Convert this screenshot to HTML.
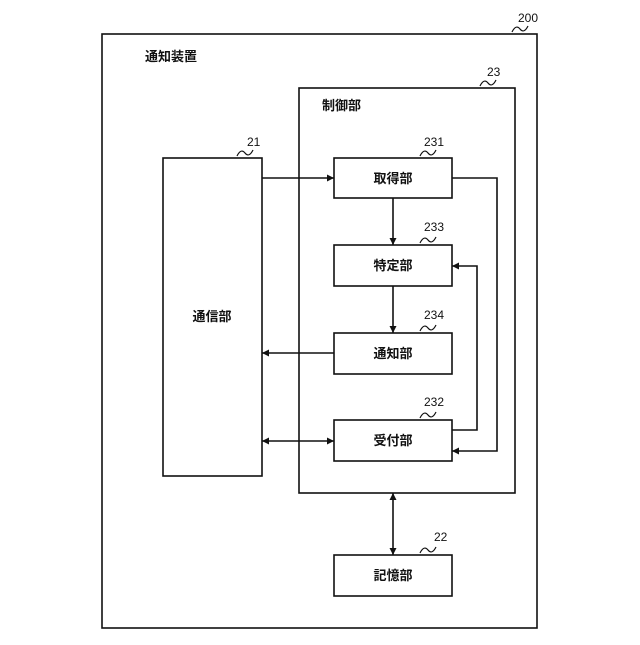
<!DOCTYPE html>
<html><head><meta charset="utf-8"><style>
body{margin:0;background:#fff}
text{font-family:"Liberation Sans","Noto Sans CJK JP",sans-serif;fill:#111}
</style></head><body>
<svg width="640" height="640" viewBox="0 0 640 640" xmlns="http://www.w3.org/2000/svg">
<defs><marker id="a" viewBox="0 0 10 10" refX="10" refY="5" markerWidth="9" markerHeight="7" orient="auto-start-reverse" markerUnits="userSpaceOnUse"><path d="M0,0 L10,5 L0,10 z" fill="#111"/></marker></defs>
<g fill="none" stroke="#111" stroke-width="1.6">
<rect x="102" y="34" width="435" height="594"/>
<rect x="299" y="88" width="216" height="405"/>
<rect x="163" y="158" width="99" height="318"/>
<rect x="334" y="158" width="118" height="40"/>
<rect x="334" y="245" width="118" height="41"/>
<rect x="334" y="333" width="118" height="41"/>
<rect x="334" y="420" width="118" height="41"/>
<rect x="334" y="555" width="118" height="41"/>
<line x1="262" y1="178" x2="334" y2="178" marker-end="url(#a)"/>
<line x1="393" y1="198" x2="393" y2="245" marker-end="url(#a)"/>
<line x1="393" y1="286" x2="393" y2="333" marker-end="url(#a)"/>
<line x1="334" y1="353" x2="262" y2="353" marker-end="url(#a)"/>
<line x1="262" y1="441" x2="334" y2="441" marker-start="url(#a)" marker-end="url(#a)"/>
<polyline points="452,178 497,178 497,451 452,451" marker-end="url(#a)"/>
<polyline points="452,430 477,430 477,266 452,266" marker-end="url(#a)"/>
<line x1="393" y1="493" x2="393" y2="555" marker-start="url(#a)" marker-end="url(#a)"/>
<path d="M512,32 q4,-8 8,-3 q4,5 8,-3" stroke-width="1.2"/>
<path d="M480,86 q4,-8 8,-3 q4,5 8,-3" stroke-width="1.2"/>
<path d="M237,156 q4,-8 8,-3 q4,5 8,-3" stroke-width="1.2"/>
<path d="M420,156 q4,-8 8,-3 q4,5 8,-3" stroke-width="1.2"/>
<path d="M420,243 q4,-8 8,-3 q4,5 8,-3" stroke-width="1.2"/>
<path d="M420,331 q4,-8 8,-3 q4,5 8,-3" stroke-width="1.2"/>
<path d="M420,418 q4,-8 8,-3 q4,5 8,-3" stroke-width="1.2"/>
<path d="M420,553 q4,-8 8,-3 q4,5 8,-3" stroke-width="1.2"/>
</g>
<g font-size="13" font-weight="bold">
<text x="145" y="61">通知装置</text>
<text x="322" y="110">制御部</text>
<text x="393" y="183" text-anchor="middle">取得部</text>
<text x="393" y="270" text-anchor="middle">特定部</text>
<text x="393" y="358" text-anchor="middle">通知部</text>
<text x="393" y="445" text-anchor="middle">受付部</text>
<text x="393" y="580" text-anchor="middle">記憶部</text>
<text x="212" y="321" text-anchor="middle">通信部</text>
</g>
<g font-size="12">
<text x="518" y="22">200</text>
<text x="487" y="76">23</text>
<text x="247" y="146">21</text>
<text x="424" y="146">231</text>
<text x="424" y="231">233</text>
<text x="424" y="319">234</text>
<text x="424" y="406">232</text>
<text x="434" y="541">22</text>
</g>
</svg>
</body></html>
